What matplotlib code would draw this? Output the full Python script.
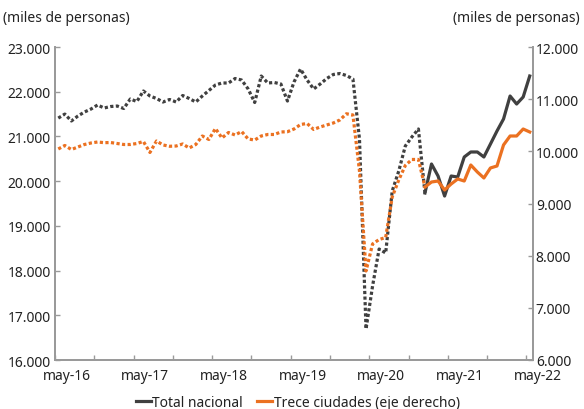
import numpy as np
import matplotlib
matplotlib.use("Agg")
import matplotlib.pyplot as plt
from matplotlib.ticker import FuncFormatter

plt.rcParams['font.family'] = ['Noto Sans', 'DejaVu Sans']

# monthly index, 73 months
etiquetas = ["may-16", "may-17", "may-18", "may-19", "may-20", "may-21", "may-22"]

# Total nacional (miles), old series (dotted) months 0..56, new series (solid) months 56..72
total_ant = [21410, 21500, 21345, 21457, 21546, 21613, 21703, 21636, 21669, 21680,
             21625, 21837, 21781, 22016, 21904, 21848, 21770, 21826, 21770, 21915,
             21848, 21770, 21904, 22027, 22150, 22195, 22195, 22295, 22262, 22061,
             21759, 22351, 22195, 22206, 22172, 21792, 22217, 22508, 22262, 22061,
             22172, 22295, 22385, 22407, 22363, 22284, 20940, 16693, 17655, 18482,
             18393, 19779, 20227, 20786, 20987, 21166, 19735]
total_nuevo = [19735, 20383, 20115, 19667, 20115, 20092, 20540, 20652, 20652, 20540,
               20830, 21121, 21390, 21904, 21725, 21882, 22351]

# Trece ciudades (miles, eje derecho)
trece_ant = [10045, 10112, 10035, 10083, 10131, 10160, 10179, 10166, 10169, 10150,
             10131, 10131, 10150, 10189, 9978, 10198, 10122, 10097, 10102, 10141,
             10064, 10131, 10294, 10227, 10438, 10256, 10361, 10313, 10380, 10237,
             10217, 10294, 10323, 10323, 10371, 10376, 10428, 10514, 10534, 10419,
             10467, 10505, 10543, 10601, 10720, 10697, 9623, 7706, 8224, 8310,
             8348, 9125, 9451, 9729, 9844, 9844, 9316]
trece_nuevo = [9316, 9412, 9431, 9259, 9374, 9470, 9431, 9738, 9604, 9489,
               9681, 9719, 10122, 10294, 10294, 10428, 10371]

x_ant = np.arange(len(total_ant))
x_nuevo = np.arange(len(total_ant) - 1, len(total_ant) - 1 + len(total_nuevo))

gris = "#404040"
naranja = "#EB7121"
eje = "#9a9a9a"

fig = plt.figure(figsize=(5.84, 4.10), dpi=100)
ax = fig.add_axes([55/584, 1 - 361/410, (533-55)/584, (361-48)/410])
ax2 = ax.twinx()

ax.plot(x_ant, total_ant, color=gris, lw=2.3, linestyle=(0, (1, 0.75)))
ax.plot(x_nuevo, total_nuevo, color=gris, lw=2.3, label="Total nacional")
ax2.plot(x_ant, trece_ant, color=naranja, lw=2.3, linestyle=(0, (1, 0.75)))
ax2.plot(x_nuevo, trece_nuevo, color=naranja, lw=2.3, label="Trece ciudades (eje derecho)")

ax.set_ylim(16000, 23000)
ax2.set_ylim(6000, 12000)
ax.set_yticks(np.arange(16000, 23001, 1000))
ax2.set_yticks(np.arange(6000, 12001, 1000))
fmt = FuncFormatter(lambda v, p: f"{int(v):,}".replace(",", "."))
ax.yaxis.set_major_formatter(fmt)
ax2.yaxis.set_major_formatter(fmt)

ax.set_xlim(-0.5, 72.5)
ax.set_xticks(np.arange(-0.5, 72, 6))
ax.set_xticklabels([])
for k, lab in enumerate(etiquetas):
    ax.text(1.3 + 12 * k, -0.025, lab, transform=ax.get_xaxis_transform(),
            ha="center", va="top", fontsize=10, color="#222222")

for a in (ax, ax2):
    a.spines["top"].set_visible(False)
    for s in ("left", "right", "bottom"):
        a.spines[s].set_color(eje)
        a.spines[s].set_linewidth(1.3)
    a.tick_params(direction="in", length=3.5, width=1, color=eje,
                  labelsize=10, labelcolor="#222222", pad=2)
ax.tick_params(axis="y", pad=3)

fig.text(0.005, 0.955, "(miles de personas)", fontsize=10, color="#222222", ha="left", va="center")
fig.text(0.993, 0.955, "(miles de personas)", fontsize=10, color="#222222", ha="right", va="center")

h1, l1 = ax.get_legend_handles_labels()
h2, l2 = ax2.get_legend_handles_labels()
fig.legend(h1 + h2, l1 + l2, loc="center", bbox_to_anchor=(0.51, 0.017), ncol=2,
           frameon=False, fontsize=10, handlelength=1.1, handletextpad=0.1,
           columnspacing=1.0, borderaxespad=0, labelcolor="#222222")

fig.savefig("out.png", dpi=100)
